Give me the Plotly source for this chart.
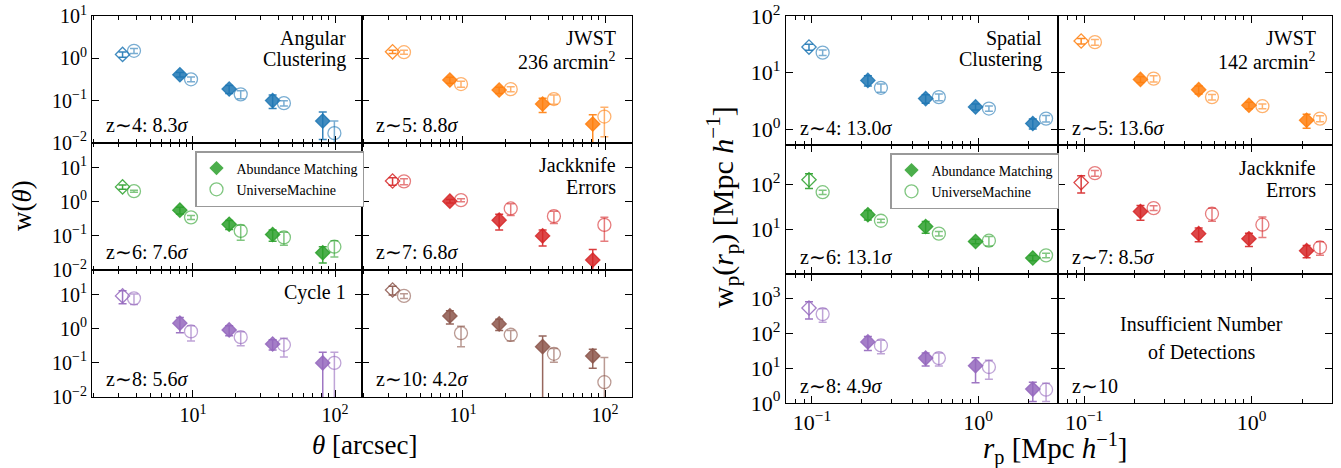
import plotly.graph_objects as go

# ---------------- data ----------------
theta_am = [3.2, 8.1, 18.0, 36.4, 82.0]
theta_um = [3.85, 9.7, 21.7, 43.7, 99.0]
rp_am = [0.096, 0.217, 0.483, 0.964, 2.13]
rp_um = [0.116, 0.26, 0.58, 1.16, 2.56]

# angular clustering w(theta)  (AM = abundance matching, UM = UniverseMachine)
w_am_z4 = [1.24, 0.41, 0.188, 0.10, 0.033]
w_am_z4_err = [0.18, 0.05, 0.04, 0.035, 0.021]
w_um_z4 = [1.51, 0.32, 0.141, 0.087, 0.017]
w_um_z4_err = [0.2, 0.04, 0.03, 0.012, 0.016]

w_am_z5 = [1.43, 0.307, 0.178, 0.083, 0.028]
w_am_z5_err = [0.12, 0.05, 0.03, 0.031, 0.018]
w_um_z5 = [1.40, 0.247, 0.187, 0.109, 0.042]
w_um_z5_err = [0.15, 0.04, 0.025, 0.027, 0.028]

w_am_z6 = [2.75, 0.57, 0.22, 0.11, 0.032]
w_am_z6_err = [0.4, 0.13, 0.065, 0.04, 0.016]
w_um_z6 = [2.06, 0.35, 0.14, 0.09, 0.048]
w_um_z6_err = [0.15, 0.045, 0.065, 0.037, 0.024]

w_am_z7 = [4.1, 1.05, 0.29, 0.10, 0.0195]
w_am_z7_err = [1.0, 0.12, 0.14, 0.05, 0.02]
w_um_z7 = [4.0, 1.12, 0.64, 0.38, 0.21]
w_um_z7_err = [0.8, 0.12, 0.24, 0.15, 0.14]

w_am_z8 = [9.3, 1.47, 0.93, 0.36, 0.10]
w_am_z8_err = [3.8, 0.7, 0.3, 0.12, 0.105]
w_um_z8 = [7.9, 0.84, 0.57, 0.34, 0.10]
w_um_z8_err = [2.7, 0.4, 0.25, 0.19, 0.105]

w_am_z10 = [13.9, 2.4, 1.4, 0.30, 0.16]
w_am_z10_err = [4.0, 1.0, 0.5, 0.32, 0.09]
w_um_z10 = [9.3, 0.75, 0.67, 0.185, 0.027]
w_um_z10_err = [1.5, 0.45, 0.23, 0.08, 0.117]

# spatial clustering wp(rp)
wp_am_z4 = [28.4, 7.3, 3.48, 2.48, 1.26]
wp_am_z4_err = [3.5, 1.5, 0.6, 0.3, 0.25]
wp_um_z4 = [22.6, 5.4, 3.7, 2.32, 1.54]
wp_um_z4_err = [2.5, 0.9, 0.5, 0.25, 0.2]

wp_am_z5 = [36.3, 7.6, 5.0, 2.65, 1.44]
wp_am_z5_err = [4.0, 0.9, 0.8, 0.35, 0.4]
wp_um_z5 = [34.7, 7.85, 3.7, 2.55, 1.54]
wp_um_z5_err = [4.0, 1.0, 0.4, 0.25, 0.18]

wp_am_z6 = [125, 20.8, 11.4, 5.3, 2.27]
wp_am_z6_err = [45, 5, 3.3, 0.6, 0.3]
wp_um_z6 = [66, 15.3, 7.9, 5.5, 2.6]
wp_um_z6_err = [7, 1.3, 0.9, 1.3, 0.3]

wp_am_z7 = [108, 24.6, 7.9, 6.1, 3.3]
wp_am_z7_err = [45, 9, 2.7, 2.0, 1.0]
wp_um_z7 = [175, 29.3, 21.9, 12.5, 3.9]
wp_um_z7_err = [25, 3.5, 7, 6, 1.3]

wp_am_z8 = [540, 57, 19.5, 11.8, 2.5]
wp_am_z8_err = [280, 25, 8, 8, 1.4]
wp_um_z8 = [360, 45, 19.5, 10.8, 2.4]
wp_um_z8_err = [150, 19, 8, 6, 1.3]

labels_ang = ["z∼4: 8.3<i>σ</i>", "z∼5: 8.8<i>σ</i>", "z∼6: 7.6<i>σ</i>",
              "z∼7: 6.8<i>σ</i>", "z∼8: 5.6<i>σ</i>", "z∼10: 4.2<i>σ</i>"]
labels_sp = ["z∼4: 13.0<i>σ</i>", "z∼5: 13.6<i>σ</i>", "z∼6: 13.1<i>σ</i>",
             "z∼7: 8.5<i>σ</i>", "z∼8: 4.9<i>σ</i>", "z∼10"]

BLUE = (31, 119, 180)
ORANGE = (255, 127, 14)
GREEN = (44, 160, 44)
RED = (214, 39, 40)
PURPLE = (148, 103, 189)
BROWN = (140, 86, 75)

# ---------------- layout helpers ----------------
W, H = 1341, 468
FONT = "Liberation Serif, Times New Roman, serif"


def fx(x):
    return x / W


def fy(y):
    return 1 - y / H


def rgba(c, a):
    return f"rgba({c[0]},{c[1]},{c[2]},{a})"


def sup_label(e):
    s = str(abs(e))
    return "10<sup>" + ("−" if e < 0 else "") + s + "</sup>"


fig = go.Figure()
layout_axes = {}
annotations = []
counter = [0]


def refs(k):
    return ("x" if k == 1 else f"x{k}", "y" if k == 1 else f"y{k}")


def add_axes(xpx, ypx, xrange, yrange, xexps, yexps, showx, showy, tsize, minor_vals):
    counter[0] += 1
    k = counter[0]
    xr, yr = refs(k)
    common = dict(showline=True, linecolor="black", linewidth=1.1, mirror="allticks",
                  ticks="inside", ticklen=7, tickwidth=1.2, tickcolor="black",
                  showgrid=False, zeroline=False, type="log", automargin=False,
                  tickfont=dict(family=FONT, size=tsize, color="black"), tickmode="array")
    layout_axes["xaxis" if k == 1 else f"xaxis{k}"] = dict(
        common, domain=[fx(xpx[0]), fx(xpx[1])], range=xrange, anchor=yr,
        tickvals=[10.0 ** e for e in xexps], ticktext=[sup_label(e) for e in xexps],
        showticklabels=showx,
        minor=dict(ticks="inside", ticklen=4, tickwidth=1, tickcolor="black",
                   tickmode="array", tickvals=minor_vals, showgrid=False))
    layout_axes["yaxis" if k == 1 else f"yaxis{k}"] = dict(
        common, domain=[fy(ypx[1]), fy(ypx[0])], range=yrange, anchor=xr,
        tickvals=[10.0 ** e for e in yexps], ticktext=[sup_label(e) for e in yexps],
        showticklabels=showy)
    return k


def add_data(k, xam, yam, eam, xum, yum, eum, c):
    xr, yr = refs(k)
    fig.add_trace(go.Scatter(
        x=xum, y=yum, mode="markers", xaxis=xr, yaxis=yr, showlegend=False,
        marker=dict(symbol="circle-open", size=13, color=rgba(c, 0.6),
                    line=dict(width=1.3, color=rgba(c, 0.6))),
        error_y=dict(type="data", array=eum, visible=True, color=rgba(c, 0.6),
                     thickness=1.5, width=4)))
    fig.add_trace(go.Scatter(
        x=xam, y=yam, mode="markers", xaxis=xr, yaxis=yr, showlegend=False,
        marker=dict(symbol=["diamond-open"] + ["diamond"] * (len(yam) - 1), size=11,
                    color=rgba(c, 0.85), line=dict(width=1.3, color=rgba(c, 0.85))),
        error_y=dict(type="data", array=eam, visible=True, color=rgba(c, 0.9),
                     thickness=1.5, width=4)))


def text(x, y, s, size=20, xanchor="center", angle=0):
    annotations.append(dict(x=fx(x), y=fy(y), xref="paper", yref="paper", text=s,
                            showarrow=False, xanchor=xanchor, yanchor="middle",
                            textangle=angle, borderpad=0,
                            font=dict(family=FONT, size=size, color="black")))


minor_left = [m * 10.0 ** e for e in range(0, 3) for m in range(2, 10)]
minor_right = [m * 10.0 ** e for e in range(-2, 1) for m in range(2, 10)]

# ---------------- left group: angular clustering ----------------
L_cols = [(92, 362), (362, 632)]
L_rows = [(16, 143), (143, 270), (270, 397)]
L_xrange = [0.29, 2.19]
L_yranges = [[-2.003, 1.003], [-2.003, 1.73], [-2.003, 1.73]]

ang_panels = [
    (0, 0, BLUE, w_am_z4, w_am_z4_err, w_um_z4, w_um_z4_err),
    (0, 1, ORANGE, w_am_z5, w_am_z5_err, w_um_z5, w_um_z5_err),
    (1, 0, GREEN, w_am_z6, w_am_z6_err, w_um_z6, w_um_z6_err),
    (1, 1, RED, w_am_z7, w_am_z7_err, w_um_z7, w_um_z7_err),
    (2, 0, PURPLE, w_am_z8, w_am_z8_err, w_um_z8, w_um_z8_err),
    (2, 1, BROWN, w_am_z10, w_am_z10_err, w_um_z10, w_um_z10_err),
]
for i, (r, c, col, yam, eam, yum, eum) in enumerate(ang_panels):
    k = add_axes(L_cols[c], L_rows[r], L_xrange, L_yranges[r], [1, 2], [-2, -1, 0, 1],
                 r == 2, c == 0, 20, minor_left)
    add_data(k, theta_am, yam, eam, theta_um, yum, eum, col)
    text(L_cols[c][0] + 13, L_rows[r][1] - 18, labels_ang[i], xanchor="left")

text(347, 38, "Angular", xanchor="right")
text(347, 60, "Clustering", xanchor="right")
text(617, 38, "JWST", xanchor="right")
text(617, 61, "236 arcmin<sup>2</sup>", xanchor="right")
text(617, 165, "Jackknife", xanchor="right")
text(617, 187, "Errors", xanchor="right")
text(347, 292, "Cycle 1", xanchor="right")
text(22, 206, "w(<i>θ</i>)", size=27, angle=-90)
text(364, 445, "<i>θ</i> [arcsec]", size=27)

# ---------------- right group: spatial clustering ----------------
R_cols = [(786, 1058), (1058, 1332)]
R_rows = [(16, 145), (145, 274), (274, 403)]
R_xrange = [-1.156, 0.48]
R_yranges = [[-0.28, 2.003], [0.0, 2.87], [-0.003, 3.71]]
R_yexps = [[0, 1, 2], [1, 2], [0, 1, 2, 3]]

sp_panels = [
    (0, 0, BLUE, wp_am_z4, wp_am_z4_err, wp_um_z4, wp_um_z4_err),
    (0, 1, ORANGE, wp_am_z5, wp_am_z5_err, wp_um_z5, wp_um_z5_err),
    (1, 0, GREEN, wp_am_z6, wp_am_z6_err, wp_um_z6, wp_um_z6_err),
    (1, 1, RED, wp_am_z7, wp_am_z7_err, wp_um_z7, wp_um_z7_err),
    (2, 0, PURPLE, wp_am_z8, wp_am_z8_err, wp_um_z8, wp_um_z8_err),
    (2, 1, None, None, None, None, None),
]
for i, (r, c, col, yam, eam, yum, eum) in enumerate(sp_panels):
    k = add_axes(R_cols[c], R_rows[r], R_xrange, R_yranges[r], [-1, 0], R_yexps[r],
                 r == 2, c == 0, 22, minor_right)
    if col is not None:
        add_data(k, rp_am, yam, eam, rp_um, yum, eum, col)
    else:
        xr, yr = refs(k)
        fig.add_trace(go.Scatter(x=[None], y=[None], xaxis=xr, yaxis=yr, showlegend=False))
    text(R_cols[c][0] + 13, R_rows[r][1] - 17, labels_sp[i], xanchor="left")

text(1043, 38, "Spatial", xanchor="right")
text(1043, 60, "Clustering", xanchor="right")
text(1317, 38, "JWST", xanchor="right")
text(1317, 61, "142 arcmin<sup>2</sup>", xanchor="right")
text(1317, 168, "Jackknife", xanchor="right")
text(1317, 190, "Errors", xanchor="right")
text(1201, 324, "Insufficient Number")
text(1201, 352, "of Detections")
text(722, 207, "w<sub>p</sub>(<i>r</i><sub>p</sub>) [Mpc <i>h</i><sup>−1</sup>]", size=30, angle=-90)
text(1055, 448, "<i>r</i><sub>p</sub> [Mpc <i>h</i><sup>−1</sup>]", size=29)

# ---------------- legends ----------------
for lg, (xr, yr) in (("legend", refs(3)), ("legend2", refs(9))):
    fig.add_trace(go.Scatter(x=[None], y=[None], mode="markers", name="Abundance Matching",
                             xaxis=xr, yaxis=yr, legend=lg,
                             marker=dict(symbol="diamond", size=11, color=rgba(GREEN, 0.85))))
    fig.add_trace(go.Scatter(x=[None], y=[None], mode="markers", name="UniverseMachine",
                             xaxis=xr, yaxis=yr, legend=lg,
                             marker=dict(symbol="circle-open", size=13, color=rgba(GREEN, 0.6),
                                         line=dict(width=1.3))))

legend_style = dict(bgcolor="white", bordercolor="#999999", borderwidth=1.5,
                    font=dict(family=FONT, size=14, color="black"),
                    xanchor="left", yanchor="top", tracegroupgap=0, itemwidth=30)

fig.update_layout(
    template="none",
    width=W, height=H, autosize=False,
    margin=dict(l=0, r=0, t=0, b=0, autoexpand=False),
    paper_bgcolor="white", plot_bgcolor="white",
    showlegend=True,
    legend=dict(legend_style, x=fx(195), y=fy(151)),
    legend2=dict(legend_style, x=fx(890), y=fy(153)),
    annotations=annotations,
    **layout_axes,
)

fig.write_html("out.html", config={"displayModeBar": False},
               post_script="document.body.style.margin='0px';document.body.style.overflow='hidden';")
